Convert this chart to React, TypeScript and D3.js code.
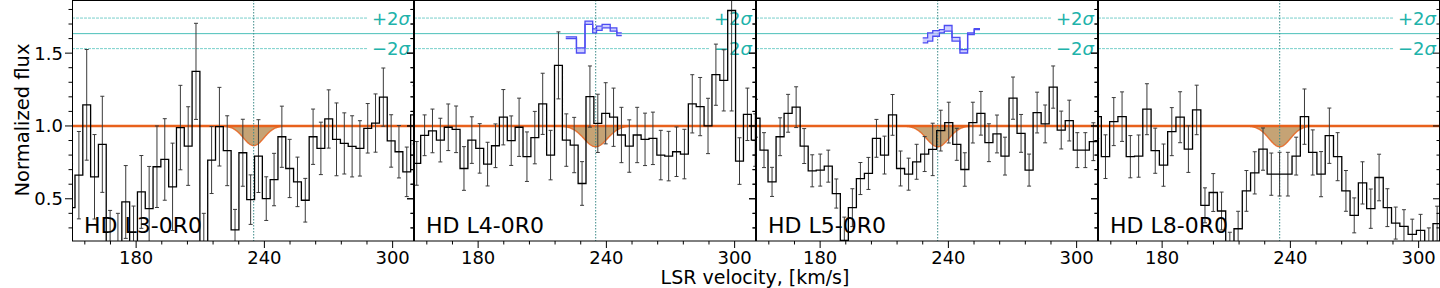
import React, { useEffect } from "react";
import * as d3 from "d3";

// ---------------- data ----------------
const panelLabels = ["HD L3-0R0", "HD L4-0R0", "HD L5-0R0", "HD L8-0R0"];
// left edge of first bin (km/s) and bin width (km/s) for each panel
const binStart = [147.75, 149.44, 148.11, 147.68];
const binWidth = [3.652, 3.683, 3.758, 3.879];

const flux1 = [0.439, 0.662, 1.145, 0.651, 0.874, 0.12, 0.1, 0.478, 0.15, 0.547, 0.432, 0.72, 0.77, 0.582, 0.989, 0.862, 1.375, 0.1, 0.766, 0.995, 0.83, 0.287, 0.816, 0.494, 0.793, 0.501, 0.632, 0.926, 0.708, 0.616, 0.49, 0.926, 0.846, 1.048, 0.908, 0.88, 0.86, 0.846, 0.984, 1.02, 1.198, 0.897, 0.823, 0.685, 1.076];
const err1 = [0.3, 0.3, 0.38, 0.29, 0.33, 0.3, 0.3, 0.25, 0.3, 0.25, 0.29, 0.28, 0.28, 0.3, 0.29, 0.27, 0.33, 0.3, 0.23, 0.27, 0.24, 0.14, 0.23, 0.17, 0.25, 0.15, 0.18, 0.21, 0.2, 0.17, 0.15, 0.19, 0.18, 0.2, 0.25, 0.21, 0.21, 0.19, 0.17, 0.2, 0.2, 0.18, 0.18, 0.17, 0.2];

const flux2 = [0.743, 0.936, 0.966, 0.903, 0.991, 0.977, 0.708, 0.903, 0.846, 0.738, 0.864, 1.06, 0.899, 0.991, 0.789, 0.92, 1.152, 0.8, 1.416, 0.903, 0.869, 0.605, 1.202, 1.018, 1.087, 1.06, 0.938, 0.862, 0.938, 0.908, 0.915, 0.8, 0.793, 0.823, 0.807, 1.152, 1.133, 1.0, 1.352, 1.313, 1.793, 0.759, 1.08, 0.903];
const err2 = [0.15, 0.14, 0.15, 0.15, 0.16, 0.16, 0.15, 0.16, 0.17, 0.15, 0.15, 0.19, 0.17, 0.2, 0.17, 0.18, 0.21, 0.17, 0.23, 0.18, 0.19, 0.15, 0.21, 0.2, 0.21, 0.2, 0.19, 0.18, 0.19, 0.18, 0.18, 0.17, 0.17, 0.17, 0.17, 0.2, 0.2, 0.19, 0.21, 0.21, 0.69, 0.16, 0.18, 0.18];

const flux3 = [1.053, 0.834, 0.616, 0.926, 1.087, 1.129, 0.862, 0.692, 0.697, 0.724, 0.536, 0.214, 0.439, 0.639, 0.674, 0.915, 0.8, 1.076, 0.708, 0.669, 0.754, 0.807, 0.839, 0.968, 1.023, 0.874, 0.701, 1.023, 1.087, 0.885, 0.945, 0.793, 1.191, 0.949, 0.697, 1.092, 1.014, 1.267, 0.972, 1.037, 0.834, 0.834, 0.892];
const err3 = [0.13, 0.12, 0.1, 0.13, 0.13, 0.14, 0.12, 0.11, 0.11, 0.11, 0.1, 0.16, 0.13, 0.11, 0.11, 0.13, 0.13, 0.14, 0.12, 0.11, 0.12, 0.12, 0.18, 0.14, 0.14, 0.11, 0.115, 0.14, 0.15, 0.13, 0.13, 0.13, 0.145, 0.13, 0.11, 0.14, 0.13, 0.145, 0.13, 0.14, 0.12, 0.12, 0.13];

const flux4 = [1.064, 0.789, 1.03, 1.064, 0.789, 0.793, 1.115, 0.83, 0.731, 0.961, 1.06, 0.841, 1.11, 0.455, 0.543, 0.416, 0.15, 0.294, 0.554, 0.678, 0.841, 0.669, 0.669, 0.669, 0.793, 1.064, 0.818, 0.669, 0.933, 0.789, 0.554, 0.386, 0.609, 0.432, 0.646, 0.439, 0.333, 0.31, 0.255, 0.283, 0.2, 0.329];
const err4 = [0.15, 0.15, 0.165, 0.17, 0.145, 0.145, 0.175, 0.155, 0.145, 0.165, 0.175, 0.16, 0.17, 0.12, 0.13, 0.13, 0.12, 0.12, 0.14, 0.145, 0.145, 0.145, 0.15, 0.15, 0.13, 0.19, 0.155, 0.155, 0.19, 0.165, 0.14, 0.12, 0.145, 0.135, 0.16, 0.13, 0.11, 0.115, 0.105, 0.11, 0.1, 0.12];

const fluxes = [flux1, flux2, flux3, flux4];
const errors = [err1, err2, err3, err4];

// absorption model (Gaussian) parameters
const lineCenter = 235;
const absDepth = [0.135, 0.143, 0.143, 0.143];
const absSigma = [4.8, 5.5, 5.2, 5.0];

// reference levels
const sigmaMid = 1.634;
const sigmaPlus = 1.741;
const sigmaMinus = 1.531;

// blue bands (step edges in km/s, upper / lower flux)
const band2Edges = [221.0, 226.0, 230.0, 233.6, 235.4, 238.0, 241.8, 244.9, 247.2];
const band2Upper = [1.612, 1.536, 1.72, 1.667, 1.685, 1.697, 1.674, 1.639];
const band2Lower = [1.6, 1.501, 1.697, 1.639, 1.657, 1.674, 1.651, 1.621];
const band3Edges = [228.0, 230.3, 232.7, 235.8, 238.1, 241.7, 245.4, 249.0, 252.1, 254.8];
const band3Upper = [1.605, 1.639, 1.655, 1.662, 1.69, 1.609, 1.524, 1.639, 1.669];
const band3Lower = [1.57, 1.582, 1.616, 1.639, 1.651, 1.582, 1.501, 1.628, 1.662];
const bands: (null | { e: number[]; u: number[]; l: number[] })[] = [
  null,
  { e: band2Edges, u: band2Upper, l: band2Lower },
  { e: band3Edges, u: band3Upper, l: band3Lower },
  null,
];

const xDomain = [150, 310];
const yDomain = [0.21, 1.865];
const xMajor = [180, 240, 300];
const xMinor = [156, 168, 192, 204, 216, 228, 252, 264, 276, 288];
const yMajor = [0.5, 1.0, 1.5];
const yMinor = [0.3, 0.4, 0.6, 0.7, 0.8, 0.9, 1.1, 1.2, 1.3, 1.4, 1.6, 1.7, 1.8];

// ---------------- layout ----------------
const W = 1440;
const H = 288;
const left0 = 72;
const panelW = 342;
const top = 0;
const bottom = 241;
const FONT = "DejaVu Sans, sans-serif";
const TEAL = "#20b2aa";
const ORANGE = "#e8621c";

function Panel({ i }: { i: number }) {
  const x0 = left0 + i * panelW;
  const x = d3.scaleLinear().domain(xDomain).range([x0, x0 + panelW]);
  const y = d3.scaleLinear().domain(yDomain).range([bottom, top]);
  const vals = fluxes[i];
  const errs = errors[i];
  const bw = binWidth[i];
  const bs = binStart[i];

  const pts: [number, number][] = vals.map((v, k) => [bs + k * bw, v]);
  pts.push([bs + vals.length * bw, vals[vals.length - 1]]);
  const stepPath = d3
    .line<[number, number]>()
    .x((d) => x(d[0]))
    .y((d) => y(d[1]))
    .curve(d3.curveStepAfter)(pts) as string;

  const model = d3.range(xDomain[0], xDomain[1] + 0.01, 0.25).map((v) => [
    v,
    1 - absDepth[i] * Math.exp(-0.5 * ((v - lineCenter) / absSigma[i]) ** 2),
  ]) as [number, number][];
  const modelLine = d3
    .line<[number, number]>()
    .x((d) => x(d[0]))
    .y((d) => y(d[1]))(model) as string;
  const modelArea = d3
    .area<[number, number]>()
    .x((d) => x(d[0]))
    .y0(y(1))
    .y1((d) => y(d[1]))(model) as string;

  const band = bands[i];
  let bandArea = "";
  let bandU = "";
  let bandL = "";
  if (band) {
    const bp = band.e.map((e, k) => ({
      e,
      u: band.u[Math.min(k, band.u.length - 1)],
      l: band.l[Math.min(k, band.l.length - 1)],
    }));
    bandArea = d3
      .area<any>()
      .x((d) => x(d.e))
      .y0((d) => y(d.l))
      .y1((d) => y(d.u))
      .curve(d3.curveStepAfter)(bp) as string;
    bandU = d3
      .line<any>()
      .x((d) => x(d.e))
      .y((d) => y(d.u))
      .curve(d3.curveStepAfter)(bp) as string;
    bandL = d3
      .line<any>()
      .x((d) => x(d.e))
      .y((d) => y(d.l))
      .curve(d3.curveStepAfter)(bp) as string;
  }

  const clipId = `clip${i}`;
  const xr = x0 + panelW;
  const labelBoxX = xr - 46;

  return (
    <g>
      <defs>
        <clipPath id={clipId}>
          <rect x={x0} y={top} width={panelW} height={bottom - top} />
        </clipPath>
      </defs>
      <g clipPath={`url(#${clipId})`}>
        {/* sigma reference lines */}
        <line x1={x0} x2={xr} y1={y(sigmaMid)} y2={y(sigmaMid)} stroke={TEAL} strokeWidth={1} opacity={0.8} />
        <line x1={x0} x2={labelBoxX} y1={y(sigmaPlus)} y2={y(sigmaPlus)} stroke={TEAL} strokeWidth={1} opacity={0.6} strokeDasharray="3,1" />
        <line x1={x0} x2={labelBoxX} y1={y(sigmaMinus)} y2={y(sigmaMinus)} stroke={TEAL} strokeWidth={1} opacity={0.6} strokeDasharray="3,1" />

        {/* sigma labels (under the data) */}
        <rect x={labelBoxX} y={y(sigmaPlus) - 10} width={xr - labelBoxX} height={20} fill="#fff" />
        <rect x={labelBoxX} y={y(sigmaMinus) - 10} width={xr - labelBoxX} height={20} fill="#fff" />
        <text x={xr - 4} y={y(sigmaPlus) + 6.5} textAnchor="end" fontSize={18} fill={TEAL} fontFamily={FONT}>
          +2<tspan fontStyle="italic">σ</tspan>
        </text>
        <text x={xr - 4} y={y(sigmaMinus) + 6.5} textAnchor="end" fontSize={18} fill={TEAL} fontFamily={FONT}>
          −2<tspan fontStyle="italic">σ</tspan>
        </text>

        {/* absorption model */}
        <path d={modelArea} fill="#bf9966" opacity={0.9} />
        <line x1={x0} x2={xr} y1={y(1)} y2={y(1)} stroke={ORANGE} strokeWidth={2.6} />
        <path d={modelLine} fill="none" stroke={ORANGE} strokeWidth={1.4} opacity={0.85} />

        {/* line centre */}
        <line x1={x(lineCenter)} x2={x(lineCenter)} y1={top} y2={bottom} stroke="#3d8a88" strokeWidth={1} strokeDasharray="1.5,1.5" />

        {/* blue band */}
        {band && (
          <g>
            <path d={bandArea} fill="#b9b9ff" opacity={0.7} />
            <path d={bandU} fill="none" stroke="#4d4df2" strokeWidth={1.3} />
            <path d={bandL} fill="none" stroke="#4d4df2" strokeWidth={1.3} />
          </g>
        )}

        {/* error bars */}
        {vals.map((v, k) => {
          const c = x(bs + (k + 0.5) * bw);
          const y1 = y(v - errs[k]);
          const y2 = y(v + errs[k]);
          return (
            <g key={k} stroke="#3a3a3a" strokeWidth={1}>
              <line x1={c} x2={c} y1={y1} y2={y2} />
              <line x1={c - 2} x2={c + 2} y1={y1} y2={y1} />
              <line x1={c - 2} x2={c + 2} y1={y2} y2={y2} />
            </g>
          );
        })}

        {/* flux histogram */}
        <path d={stepPath} fill="none" stroke="#000" strokeWidth={1.3} />
      </g>

      {/* panel label */}
      <text x={x0 + 12} y={233} fontSize={22} fill="#000" fontFamily={FONT}>
        {panelLabels[i]}
      </text>

      {/* frame */}
      <rect x={x0 + 0.5} y={top + 0.5} width={panelW - 1} height={bottom - top - 0.5} fill="none" stroke="#000" strokeWidth={1} />

      {/* x ticks */}
      {xMajor.map((t) => (
        <g key={"xM" + t}>
          <line x1={x(t)} x2={x(t)} y1={bottom} y2={bottom + 7} stroke="#000" strokeWidth={1} />
          <text x={x(t)} y={264} textAnchor="middle" fontSize={18} fontFamily={FONT} fill="#000">
            {t}
          </text>
        </g>
      ))}
      {xMinor.map((t) => (
        <line key={"xm" + t} x1={x(t)} x2={x(t)} y1={bottom} y2={bottom + 3.5} stroke="#000" strokeWidth={1} />
      ))}

      {/* y ticks left (outward) and right (inward) */}
      {yMajor.map((t) => (
        <g key={"yM" + t}>
          <line x1={x0 - 7} x2={x0} y1={y(t)} y2={y(t)} stroke="#000" strokeWidth={1} />
          <line x1={xr - 7} x2={xr} y1={y(t)} y2={y(t)} stroke="#000" strokeWidth={1} />
          {i === 0 && (
            <text x={x0 - 9} y={y(t) + 6.5} textAnchor="end" fontSize={18} fontFamily={FONT} fill="#000">
              {t.toFixed(1)}
            </text>
          )}
        </g>
      ))}
      {yMinor.map((t) => (
        <g key={"ym" + t}>
          <line x1={x0 - 3.5} x2={x0} y1={y(t)} y2={y(t)} stroke="#000" strokeWidth={1} />
          <line x1={xr - 3.5} x2={xr} y1={y(t)} y2={y(t)} stroke="#000" strokeWidth={1} />
        </g>
      ))}
    </g>
  );
}

export default function App() {
  useEffect(() => {
    document.body.style.margin = "0";
  }, []);
  return (
    <svg
      width={W}
      height={H}
      viewBox={`0 0 ${W} ${H}`}
      style={{ position: "absolute", left: 0, top: 0, background: "#fff" }}
    >
      <rect x={0} y={0} width={W} height={H} fill="#fff" />
      {[0, 1, 2, 3].map((i) => (
        <Panel key={i} i={i} />
      ))}
      <text
        transform={`translate(28.5, 120) rotate(-90)`}
        textAnchor="middle"
        fontSize={19.5}
        fontFamily={FONT}
        fill="#000"
      >
        Normalized flux
      </text>
      <text x={755} y={284} textAnchor="middle" fontSize={19} fontFamily={FONT} fill="#000">
        LSR velocity, [km/s]
      </text>
    </svg>
  );
}
